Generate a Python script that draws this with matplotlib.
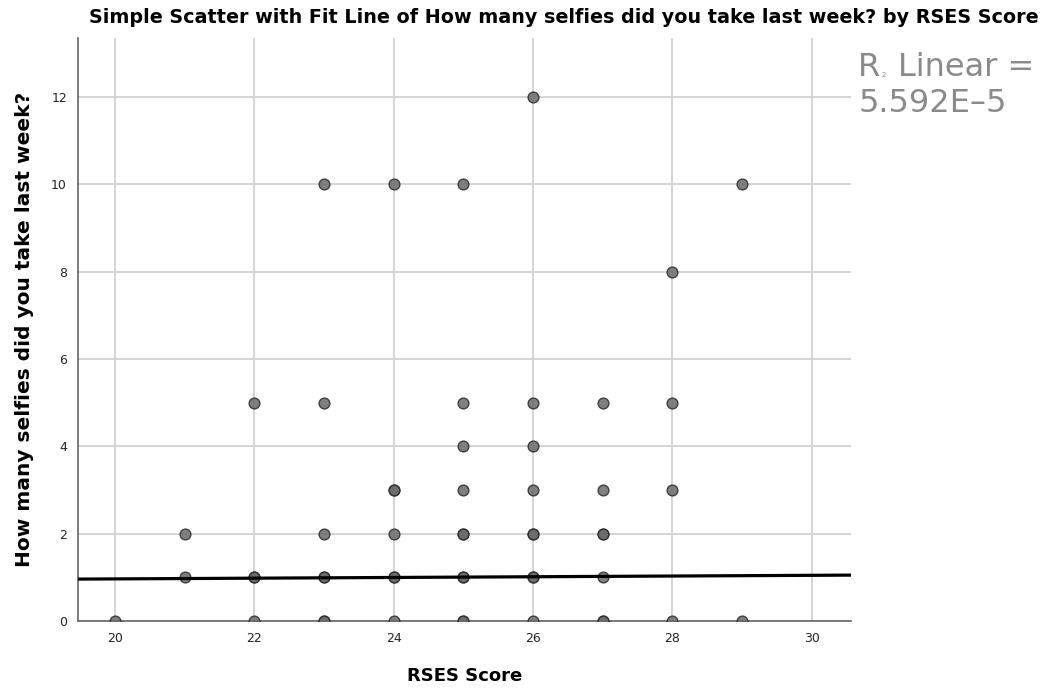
import numpy as np
import matplotlib.pyplot as plt

# --- data ---
rses = [20, 21, 21, 22, 22, 22, 22, 23, 23, 23, 23, 23, 23, 23,
        24, 24, 24, 24, 24, 24, 24, 25, 25, 25, 25, 25, 25, 25, 25, 25, 25,
        26, 26, 26, 26, 26, 26, 26, 26, 26, 27, 27, 27, 27, 27, 27, 27,
        28, 28, 28, 28, 29, 29]
selfies = [0, 1, 2, 0, 1, 1, 5, 0, 0, 1, 1, 2, 5, 10,
           0, 1, 1, 2, 3, 3, 10, 0, 0, 1, 1, 2, 2, 3, 4, 5, 10,
           0, 1, 1, 2, 2, 3, 4, 5, 12, 0, 0, 1, 2, 2, 3, 5,
           0, 3, 5, 8, 0, 10]
# fitted line
fit_intercept = 0.80
fit_slope = 0.0082
r2_text = "5.592E-5"

x_ticks = [20, 22, 24, 26, 28, 30]
y_ticks = [0, 2, 4, 6, 8, 10, 12]

fig = plt.figure(figsize=(10.49, 6.94), dpi=100)
ax = fig.add_axes([0.0744, 0.1052, 0.7366, 0.84])

ax.set_xlim(19.47, 30.56)
ax.set_ylim(0, 13.35)
ax.set_xticks(x_ticks)
ax.set_yticks(y_ticks)
ax.grid(True, color='#d4d4d4', linewidth=1.4)
ax.set_axisbelow(True)
ax.tick_params(length=0, labelsize=9, colors='#222222', pad=8)

for s in ['top', 'right']:
    ax.spines[s].set_visible(False)
for s in ['left', 'bottom']:
    ax.spines[s].set_color('#666666')
    ax.spines[s].set_linewidth(1.2)

ax.scatter(rses, selfies, s=60, facecolor='#6a6a6a', edgecolor='#2a2a2a',
           linewidth=1.0, alpha=0.85, zorder=3)

xs = np.array(ax.get_xlim())
ax.plot(xs, fit_intercept + fit_slope * xs, color='black', linewidth=2.3, zorder=4)

ax.set_xlabel("RSES Score", fontsize=13, fontweight='bold', labelpad=16)
ax.set_ylabel("How many selfies did you take last week?", fontsize=14.5,
              fontweight='bold', labelpad=12)
fig.suptitle("Simple Scatter with Fit Line of How many selfies did you take last week? by RSES Score",
             fontsize=13.8, fontweight='bold', x=0.537, y=0.988)

fig.text(0.818, 0.903, "R", fontsize=23, color='#8a8a8a', va='center')
fig.text(0.8405, 0.892, "2", fontsize=5, color='#8a8a8a', va='center')
fig.text(0.856, 0.903, "Linear =", fontsize=23, color='#8a8a8a', va='center')
fig.text(0.818, 0.851, r2_text.replace('-', '\u2013'), fontsize=23, color='#8a8a8a', va='center')

fig.savefig("out.png", dpi=100)
